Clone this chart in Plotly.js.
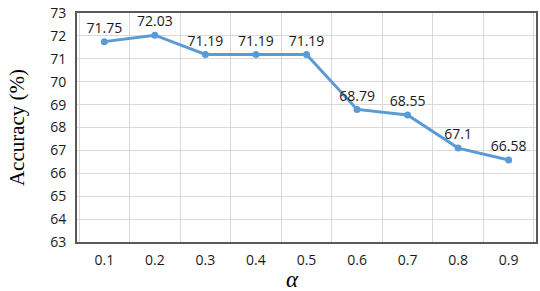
<!DOCTYPE html>
<html>
<head>
<meta charset="utf-8">
<script src="https://cdn.plot.ly/plotly-3.0.1.min.js"></script>
<style>html,body{margin:0;padding:0;background:#fff;}#chart{width:540px;height:291px;}</style>
</head>
<body>
<div id="chart"></div>
<script>
const alphaLabels = ["0.1","0.2","0.3","0.4","0.5","0.6","0.7","0.8","0.9"];
const accuracy = [71.75, 72.03, 71.19, 71.19, 71.19, 68.79, 68.55, 67.1, 66.58];
const accuracyText = ["71.75","72.03","71.19","71.19","71.19","68.79","68.55","67.1","66.58"];
const yTicks = [63,64,65,66,67,68,69,70,71,72,73];

const trace = {
  x: alphaLabels,
  y: accuracy,
  type: 'scatter',
  mode: 'lines+markers+text',
  text: accuracyText,
  textposition: 'top center',
  textfont: {family: 'Open Sans, sans-serif', size: 14, color: '#1a1a1a'},
  line: {color: '#5B9BD5', width: 3},
  marker: {color: '#5B9BD5', size: 7},
  cliponaxis: false,
  hoverinfo: 'none'
};

const layout = {
  width: 540, height: 291,
  margin: {l: 77, r: 4, t: 13, b: 49},
  paper_bgcolor: '#fff', plot_bgcolor: '#fff',
  showlegend: false,
  font: {family: 'Open Sans, sans-serif', size: 14, color: '#1a1a1a'},
  xaxis: {
    type: 'category',
    tickson: 'boundaries',
    ticks: '',
    showgrid: true, gridcolor: '#d9d9d9', gridwidth: 1,
    showline: true, linecolor: '#595959', linewidth: 2, mirror: true,
    tickfont: {family: 'Open Sans, sans-serif', size: 14, color: '#1a1a1a'},
    ticklabelstandoff: 4,
    fixedrange: true
  },
  yaxis: {
    range: [63, 73],
    tickvals: yTicks,
    ticks: '',
    showgrid: true, gridcolor: '#d9d9d9', gridwidth: 1,
    zeroline: false,
    showline: true, linecolor: '#595959', linewidth: 2, mirror: true,
    tickfont: {family: 'Open Sans, sans-serif', size: 14, color: '#1a1a1a'},
    ticklabelstandoff: 6,
    title: {text: 'Accuracy (%)', font: {family: 'Liberation Serif, serif', size: 21, color: '#000'}, standoff: 20},
    fixedrange: true
  },
  annotations: [{
    text: 'α', xref: 'paper', yref: 'paper', x: 0.47, y: 0,
    xanchor: 'center', yanchor: 'middle', yshift: -37, showarrow: false,
    font: {family: 'Liberation Serif, serif', size: 23, color: '#000', style: 'italic'}
  }]
};

Plotly.newPlot('chart', [trace], layout, {displayModeBar: false, staticPlot: true});
</script>
</body>
</html>
